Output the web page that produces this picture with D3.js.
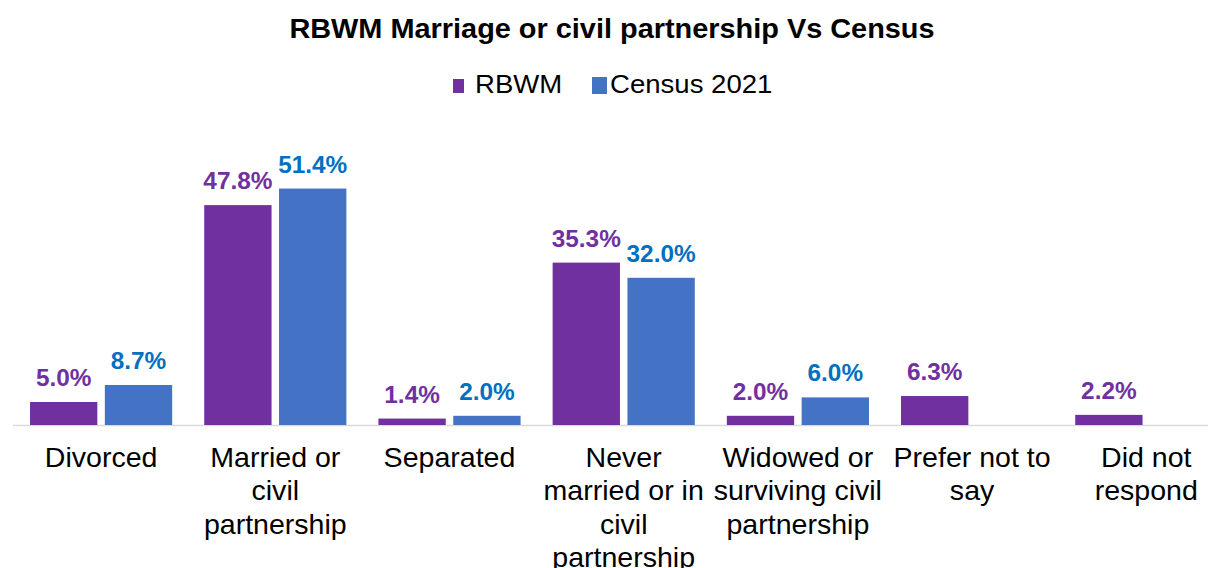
<!DOCTYPE html>
<html lang="en">
<head>
<meta charset="utf-8">
<title>RBWM Marriage or civil partnership Vs Census</title>
<script src="https://cdn.jsdelivr.net/npm/d3@7"></script>
<style>
  body { margin: 0; background: #fff; }
  text { font-family: Arial, "Liberation Sans", sans-serif; }
</style>
</head>
<body>
<script>
  var w = 1216;
  var h = 568;

  // data
  var categories = ["Divorced", "Married", "Separated", "Never", "Widowed", "Prefer", "DidNot"];
  var tickLabels = [
    ["Divorced"],
    ["Married or", "civil", "partnership"],
    ["Separated"],
    ["Never", "married or in", "civil", "partnership"],
    ["Widowed or", "surviving civil", "partnership"],
    ["Prefer not to", "say"],
    ["Did not", "respond"]
  ];
  var seriesNames = ["RBWM", "Census 2021"];
  var rbwm = [5.0, 47.8, 1.4, 35.3, 2.0, 6.3, 2.2];
  var census = [8.7, 51.4, 2.0, 32.0, 6.0, null, null];

  var barColors = ["#7030A0", "#4472C4"];
  var labelColors = ["#7030A0", "#0070C0"];

  var rows = categories.map(function(c, i) {
    return { cat: c, vals: [rbwm[i], census[i]] };
  });

  // the reference text is a little wider than plain Arial
  function stretch(sel, cx, sx) {
    sel.attr("transform", "translate(" + cx + ",0) scale(" + sx + ",1) translate(" + (-cx) + ",0)");
  }

  var svg = d3.select("body").append("svg")
      .attr("width", w)
      .attr("height", h);

  // title
  svg.append("text")
      .attr("x", 612)
      .attr("y", 38)
      .attr("text-anchor", "middle")
      .attr("font-size", 27)
      .attr("font-weight", "bold")
      .attr("fill", "#000")
      .text("RBWM Marriage or civil partnership Vs Census")
      .call(stretch, 612, 1.07);

  // legend
  var legend = svg.append("g").attr("class", "legend");
  var legBox = [{ x: 453, y: 79, w: 11, h: 14 }, { x: 592, y: 77, w: 15, h: 17 }];
  var legText = [475, 610];
  seriesNames.forEach(function(name, i) {
    legend.append("rect")
        .attr("x", legBox[i].x)
        .attr("y", legBox[i].y)
        .attr("width", legBox[i].w)
        .attr("height", legBox[i].h)
        .attr("fill", barColors[i]);
    legend.append("text")
        .attr("x", legText[i])
        .attr("y", 93)
        .attr("font-size", 26)
        .attr("fill", "#000")
        .text(name)
        .call(stretch, legText[i], 1.06);
  });

  var baseY = 425;
  var x0 = d3.scaleBand()
      .domain(categories)
      .range([14, 14 + 174.2 * categories.length])
      .paddingInner(0.184)
      .paddingOuter(0.092);

  var x1 = d3.scaleBand()
      .domain([0, 1])
      .range([0, x0.bandwidth()])
      .paddingInner(0.1);

  var y = d3.scaleLinear()
      .domain([0, 60])
      .range([baseY, baseY - 4.6 * 60]);

  // axis line
  svg.append("line")
      .attr("x1", 13)
      .attr("x2", 1208)
      .attr("y1", baseY + 0.5)
      .attr("y2", baseY + 0.5)
      .attr("stroke", "#D9D9D9")
      .attr("stroke-width", 1.5);

  var groups = svg.selectAll("g.group")
      .data(rows)
      .enter()
      .append("g")
      .attr("class", "group")
      .attr("transform", function(d) { return "translate(" + x0(d.cat) + ",0)"; });

  var cells = groups.selectAll("g.cell")
      .data(function(d) {
        return d.vals.map(function(v, j) { return { v: v, j: j }; })
                     .filter(function(e) { return e.v != null; });
      })
      .enter()
      .append("g")
      .attr("class", "cell");

  cells.append("rect")
      .attr("x", function(d) { return x1(d.j); })
      .attr("y", function(d) { return y(d.v); })
      .attr("width", x1.bandwidth())
      .attr("height", function(d) { return baseY - y(d.v); })
      .attr("fill", function(d) { return barColors[d.j]; });

  cells.append("text")
      .attr("x", function(d) { return x1(d.j) + x1.bandwidth() / 2; })
      .attr("y", function(d) { return y(d.v) - 16; })
      .attr("text-anchor", "middle")
      .attr("font-size", 23)
      .attr("font-weight", "bold")
      .attr("fill", function(d) { return labelColors[d.j]; })
      .text(function(d) { return d.v.toFixed(1) + "%"; })
      .each(function(d) {
        stretch(d3.select(this), x1(d.j) + x1.bandwidth() / 2, 1.06);
      });

  // category labels under each group
  var ticks = svg.append("g").attr("class", "ticks");
  categories.forEach(function(c, i) {
    var cx = x0(c) + x0.bandwidth() / 2;
    var t = ticks.append("text")
        .attr("text-anchor", "middle")
        .attr("font-size", 28)
        .attr("fill", "#000");
    tickLabels[i].forEach(function(line, k) {
      t.append("tspan")
          .attr("x", cx)
          .attr("y", 467 + k * 33.3)
          .text(line);
    });
    stretch(t, cx, 1.02);
  });
</script>
</body>
</html>
